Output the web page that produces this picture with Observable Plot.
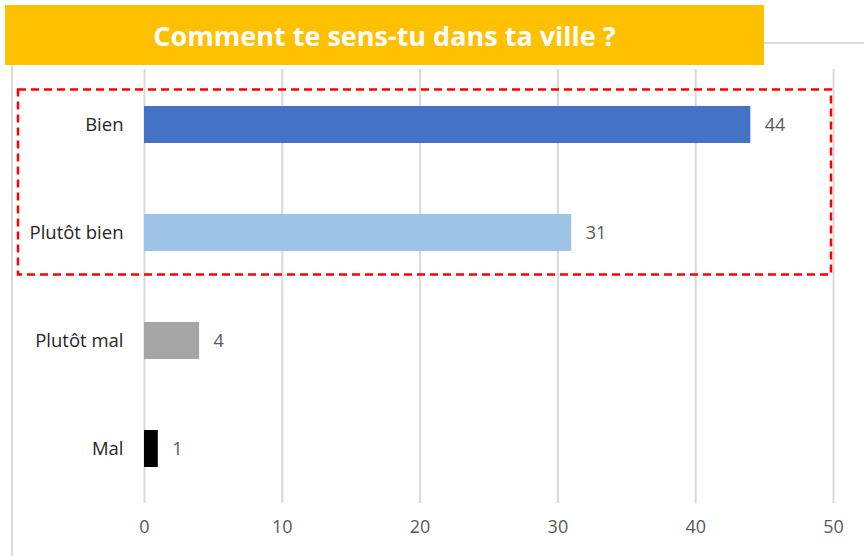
<!DOCTYPE html>
<html><head><meta charset="utf-8">
<script src="https://cdn.jsdelivr.net/npm/d3@7"></script>
<script src="https://cdn.jsdelivr.net/npm/@observablehq/plot@0.6"></script>
<style>
body{margin:0;background:#fff;}
#wrap{position:relative;width:864px;height:556px;overflow:hidden;font-family:"Open Sans",Lato,sans-serif;}
#border{position:absolute;left:11px;top:42px;width:900px;height:600px;border:2px solid #D9D9D9;box-sizing:border-box;}
#banner{position:absolute;left:5px;top:5px;width:759px;height:60px;background:#FFC000;color:#fff;font-weight:bold;font-size:27px;display:flex;align-items:center;justify-content:center;}
#chart{position:absolute;left:0;top:0;}
#hl{position:absolute;left:0;top:0;pointer-events:none;}
</style></head>
<body>
<div id="wrap">
<div id="border"></div>
<div id="chart"></div>
<div id="banner">Comment te sens-tu dans ta ville ?</div>
<svg id="hl" width="864" height="556"></svg>
</div>
<script>
const categories = ["Bien", "Plutôt bien", "Plutôt mal", "Mal"];
const values = [44, 31, 4, 1];
const colors = ["#4472C4", "#9DC3E6", "#A5A5A5", "#000000"];
const xTicks = [0, 10, 20, 30, 40, 50];
const highlighted = ["Bien", "Plutôt bien"];

const data = categories.map((c, i) => ({cat: c, v: values[i], color: colors[i]}));

const chart = Plot.plot({
  width: 864, height: 556,
  marginLeft: 144, marginRight: 31, marginTop: 69, marginBottom: 53,
  style: {fontFamily: "'Open Sans', Lato, sans-serif", fontSize: "17px", color: "#595959", background: "transparent"},
  x: {domain: [0, 50], ticks: xTicks, label: null, tickSize: 0, tickPadding: 18},
  y: {domain: categories, label: null, tickSize: 0, tickPadding: 20, paddingInner: 0.66, paddingOuter: 0.33},
  marks: [
    Plot.gridX(xTicks, {stroke: "#D9D9D9", strokeOpacity: 1, strokeWidth: 2}),
    Plot.barX(data, {x: "v", y: "cat", fill: "color"}),
    Plot.text(data, {x: "v", y: "cat", text: d => String(d.v), textAnchor: "start", dx: 14, fill: "#595959", fontSize: 18}),
    Plot.axisY({tickSize: 0, tickPadding: 21, fontSize: 18.5, fill: "#262626", label: null}),
    Plot.axisX(xTicks, {tickSize: 0, tickPadding: 17, fontSize: 18, fill: "#595959", label: null})
  ]
});
document.getElementById("chart").appendChild(chart);

// highlight box around the highlighted categories, positioned via the chart's y scale
const ys = chart.scale("y");
const bw = ys.bandwidth, step = ys.step;
const tops = highlighted.map(c => ys.apply(c));
const y0 = Math.min(...tops) - (step - bw) / 2 + 19;
const y1 = Math.max(...tops) + bw + (step - bw) / 2 - 12;
const xs = chart.scale("x");
const hl = d3.select("#hl");
hl.append("rect")
  .attr("x", 18).attr("y", y0)
  .attr("width", xs.apply(50) - 2 - 18).attr("height", y1 - y0)
  .attr("fill", "none").attr("stroke", "#FF0000").attr("stroke-width", 2.5)
  .attr("stroke-dasharray", "8,5");
</script>
</body></html>
